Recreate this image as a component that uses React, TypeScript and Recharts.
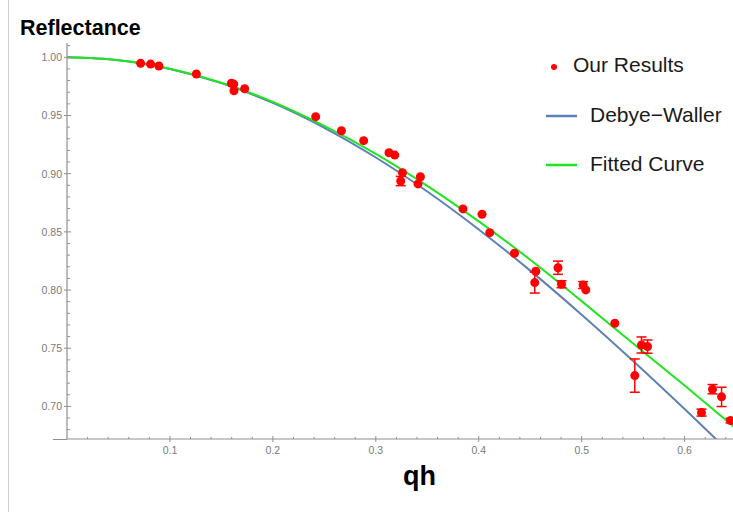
import React from "react"
import {
  ComposedChart,
  Line,
  Scatter,
  ErrorBar,
  XAxis,
  YAxis,
} from "recharts"

const QH = [
  0.0715, 0.0812, 0.0893, 0.1257, 0.1597, 0.162, 0.1622, 0.1726, 0.2416,
  0.2666, 0.2882, 0.3128, 0.3184, 0.3259, 0.3242, 0.3433, 0.341, 0.3847,
  0.4032, 0.4107, 0.4347, 0.4554, 0.4544, 0.477, 0.4804, 0.5014, 0.504,
  0.5322, 0.5581, 0.564, 0.5516, 0.6164, 0.6271, 0.6359, 0.6446,
]
const REFLECTANCE = [
  0.9948, 0.9942, 0.9925, 0.9857, 0.9777, 0.977, 0.9713, 0.973, 0.949,
  0.9369, 0.9284, 0.918, 0.916, 0.9009, 0.8937, 0.8974, 0.8912, 0.8697,
  0.8651, 0.8493, 0.8316, 0.8162, 0.8064, 0.8192, 0.805, 0.8043, 0.8001,
  0.7715, 0.7528, 0.7514, 0.7265, 0.6947, 0.7148, 0.7082, 0.6878,
]
const ERRORS = [
  0, 0, 0, 0, 0, 0, 0, 0, 0, 0, 0, 0, 0, 0, 0.004, 0, 0, 0, 0, 0, 0, 0,
  0.009, 0.0057, 0.003, 0.003, 0, 0, 0.0069, 0.0057, 0.0143, 0.003, 0.004,
  0.0083, 0.002,
]

// Curves, sampled every 0.05 in qh
const CURVE_QH = [
  0, 0.05, 0.1, 0.15, 0.2, 0.25, 0.3, 0.35, 0.4, 0.45, 0.5, 0.55, 0.6, 0.65,
]
const DEBYE_WALLER = [
  1, 0.9975, 0.99, 0.9778, 0.9608, 0.9394, 0.9139, 0.8847, 0.8521, 0.8167,
  0.7788, 0.739, 0.6977, 0.6554,
]
const FITTED = [
  1, 0.9975, 0.9901, 0.9781, 0.9617, 0.941, 0.917, 0.8895, 0.859, 0.826,
  0.7905, 0.754, 0.718, 0.681,
]

const X_MAJOR = [0.1, 0.2, 0.3, 0.4, 0.5, 0.6]
const X_MINOR = [
  0.02, 0.04, 0.06, 0.08, 0.12, 0.14, 0.16, 0.18, 0.22, 0.24, 0.26, 0.28,
  0.32, 0.34, 0.36, 0.38, 0.42, 0.44, 0.46, 0.48, 0.52, 0.54, 0.56, 0.58,
  0.62, 0.64,
]
const Y_MAJOR = [0.7, 0.75, 0.8, 0.85, 0.9, 0.95, 1.0]
const Y_MINOR = [
  0.68, 0.69, 0.71, 0.72, 0.73, 0.74, 0.76, 0.77, 0.78, 0.79, 0.81, 0.82,
  0.83, 0.84, 0.86, 0.87, 0.88, 0.89, 0.91, 0.92, 0.93, 0.94, 0.96, 0.97,
  0.98, 0.99, 1.01,
]

const AXIS_COLOR = "#8f8f8f"
const LABEL_COLOR = "#7a7a7a"
const BLUE = "#5e81b5"
const GREEN = "#1ee61e"
const RED = "#ff0000"
const FONT = "'Liberation Sans', Arial, sans-serif"

const points = QH.map((q, i) => ({ q, r: REFLECTANCE[i], err: ERRORS[i] }))
const debye = CURVE_QH.map((q, i) => ({ q, r: DEBYE_WALLER[i] }))
const fitted = CURVE_QH.map((q, i) => ({ q, r: FITTED[i] }))

const isMajor = (list: number[], v: number) =>
  list.some((m) => Math.abs(m - v) < 1e-6)

function XTick({ x, y, payload }: any) {
  const major = isMajor(X_MAJOR, payload.value)
  return (
    <g>
      <line
        x1={x}
        x2={x}
        y1={major ? y - 3 : y - 2}
        y2={major ? y + 3 : y}
        stroke={AXIS_COLOR}
        strokeWidth={1}
      />
      {major && (
        <text
          x={x}
          y={y + 15}
          textAnchor="middle"
          fill={LABEL_COLOR}
          fontSize={10.5}
          fontFamily={FONT}
        >
          {payload.value.toFixed(1)}
        </text>
      )}
    </g>
  )
}

function YTick({ x, y, payload }: any) {
  const major = isMajor(Y_MAJOR, payload.value)
  return (
    <g>
      <line
        x1={major ? x - 3 : x}
        x2={major ? x + 4 : x + 3}
        y1={y}
        y2={y}
        stroke={AXIS_COLOR}
        strokeWidth={1}
      />
      {major && (
        <text
          x={x - 5}
          y={y + 4}
          textAnchor="end"
          fill={LABEL_COLOR}
          fontSize={10.5}
          fontFamily={FONT}
        >
          {payload.value.toFixed(2)}
        </text>
      )}
    </g>
  )
}

const Dot = (props: any) => (
  <circle cx={props.cx} cy={props.cy} r={4.5} fill={RED} />
)

export default function App() {
  return (
    <div
      style={{
        position: "absolute",
        left: 0,
        top: 0,
        width: 733,
        height: 512,
        background: "#fff",
        fontFamily: FONT,
      }}
    >
      {/* faint frame line on the left */}
      <div
        style={{
          position: "absolute",
          left: 8,
          top: 0,
          width: 1,
          height: 512,
          background: "#cfcfcf",
        }}
      />

      <ComposedChart
        width={733}
        height={512}
        margin={{ top: 43, right: 0, bottom: 0, left: 0 }}
      >
        <XAxis
          type="number"
          dataKey="q"
          domain={[0, 0.647]}
          allowDataOverflow
          ticks={[...X_MAJOR, ...X_MINOR].sort((a, b) => a - b)}
          interval={0}
          tick={<XTick />}
          tickLine={false}
          tickSize={0}
          tickMargin={0}
          height={73}
          axisLine={{ stroke: AXIS_COLOR, strokeWidth: 1.2 }}
        />
        <YAxis
          type="number"
          dataKey="r"
          domain={[0.672, 1.0123]}
          allowDataOverflow
          ticks={[...Y_MAJOR, ...Y_MINOR].sort((a, b) => a - b)}
          interval={0}
          tick={<YTick />}
          tickLine={false}
          tickSize={0}
          tickMargin={0}
          width={67}
          axisLine={{ stroke: AXIS_COLOR, strokeWidth: 1.2 }}
        />
        <Line
          data={debye}
          dataKey="r"
          type="monotone"
          stroke={BLUE}
          strokeWidth={2}
          dot={false}
          activeDot={false}
          isAnimationActive={false}
        />
        <Line
          data={fitted}
          dataKey="r"
          type="monotone"
          stroke={GREEN}
          strokeWidth={2}
          dot={false}
          activeDot={false}
          isAnimationActive={false}
        />
        <Scatter
          data={points}
          dataKey="r"
          fill={RED}
          shape={<Dot />}
          isAnimationActive={false}
        >
          <ErrorBar
            dataKey="err"
            direction="y"
            width={5}
            stroke={RED}
            strokeWidth={1.5}
            isAnimationActive={false}
          />
        </Scatter>
      </ComposedChart>

      {/* x axis stub extending left of the origin */}
      <div
        style={{
          position: "absolute",
          left: 53,
          top: 438.5,
          width: 14,
          height: 1.2,
          background: AXIS_COLOR,
        }}
      />

      <div
        style={{
          position: "absolute",
          left: 20,
          top: 16,
          fontSize: 21.5,
          fontWeight: "bold",
          color: "#000",
        }}
      >
        Reflectance
      </div>
      <div
        style={{
          position: "absolute",
          left: 403,
          top: 461,
          fontSize: 27,
          fontWeight: "bold",
          color: "#000",
        }}
      >
        qh
      </div>

      {/* legend */}
      <svg
        style={{ position: "absolute", left: 540, top: 50 }}
        width={193}
        height={130}
      >
        <circle cx={14} cy={17} r={3} fill={RED} />
        <text x={33} y={22} fontSize={21} fill="#1a1a1a" fontFamily={FONT}>
          Our Results
        </text>
        <line x1={6} x2={37} y1={66} y2={66} stroke={BLUE} strokeWidth={2.5} />
        <text x={50} y={72} fontSize={21} fill="#1a1a1a" fontFamily={FONT}>
          Debye−Waller
        </text>
        <line x1={6} x2={37} y1={115} y2={115} stroke={GREEN} strokeWidth={2.5} />
        <text x={50} y={121} fontSize={21} fill="#1a1a1a" fontFamily={FONT}>
          Fitted Curve
        </text>
      </svg>
    </div>
  )
}
